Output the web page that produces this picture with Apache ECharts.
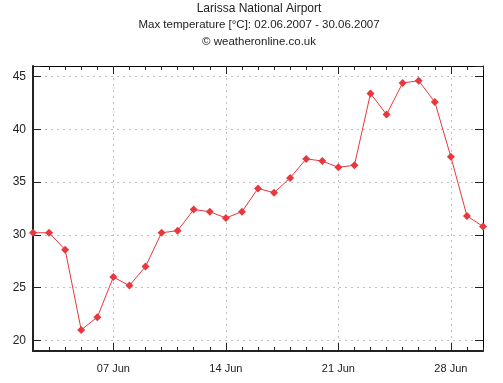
<!DOCTYPE html>
<html>
<head>
<meta charset="utf-8">
<script src="https://cdn.jsdelivr.net/npm/echarts@6/dist/echarts.min.js"></script>
<style>html,body{margin:0;padding:0;background:#fff;}#c{width:503px;height:383px;}</style>
</head>
<body>
<div id="c"></div>
<script>
const titleLines = ['Larissa National Airport', 'Max temperature [°C]: 02.06.2007 - 30.06.2007', '© weatheronline.co.uk'];
const days = ['02 Jun','03 Jun','04 Jun','05 Jun','06 Jun','07 Jun','08 Jun','09 Jun','10 Jun','11 Jun','12 Jun','13 Jun','14 Jun','15 Jun','16 Jun','17 Jun','18 Jun','19 Jun','20 Jun','21 Jun','22 Jun','23 Jun','24 Jun','25 Jun','26 Jun','27 Jun','28 Jun','29 Jun','30 Jun'];
const majorDays = ['07 Jun','14 Jun','21 Jun','28 Jun'];
const maxTemp = [30.2,30.2,28.6,21.0,22.2,26.0,25.2,27.0,30.2,30.4,32.4,32.2,31.6,32.2,34.4,34.0,35.4,37.2,37.0,36.4,36.6,43.4,41.4,44.4,44.6,42.6,37.4,31.8,30.8];
const yMin = 19, yMax = 46, yStep = 5;

const isMajor = (i) => majorDays.indexOf(days[i]) >= 0;
const font = 'Liberation Sans, Arial, sans-serif';
const titleSizes = [12, 11.5, 11.5];

function xAx(opts) {
  return Object.assign({
    type: 'category', data: days, boundaryGap: false, gridIndex: 0,
    axisLine: { show: false }, axisTick: { show: false }, axisLabel: { show: false }, splitLine: { show: false }
  }, opts);
}
function yAx(opts) {
  return Object.assign({
    type: 'value', min: yMin, max: yMax, minInterval: yStep, maxInterval: yStep, gridIndex: 0,
    axisLine: { show: false }, axisTick: { show: false }, axisLabel: { show: false }, splitLine: { show: false }
  }, opts);
}

const chart = echarts.init(document.getElementById('c'), null, { renderer: 'canvas' });
chart.setOption({
  animation: false,
  backgroundColor: '#fff',
  graphic: titleLines.map((t, i) => ({
    type: 'text', x: 259, y: 8.5 + i * 16.6,
    style: { text: t, align: 'center', verticalAlign: 'middle', font: titleSizes[i] + 'px ' + font, fill: '#222' }
  })),
  grid: { left: 33, right: 20, top: 66, bottom: 32, containLabel: false },
  xAxis: [
    xAx({ position: 'bottom',
      axisLine: { show: true, lineStyle: { color: '#222', width: 2 } },
      axisTick: { show: true, inside: true, length: 4, interval: 0, lineStyle: { color: '#222' } },
      axisLabel: { show: true, interval: (i) => isMajor(i), margin: 12, color: '#222', fontSize: 11, fontFamily: font },
      splitLine: { show: true, interval: (i) => isMajor(i), lineStyle: { color: '#c0c0c0', type: [2, 4], width: 1 } }
    }),
    xAx({ position: 'bottom',
      axisTick: { show: true, inside: true, length: 8, interval: (i) => isMajor(i), lineStyle: { color: '#222' } }
    }),
    xAx({ position: 'top',
      axisLine: { show: true, lineStyle: { color: '#000', width: 1 } },
      axisTick: { show: true, inside: true, length: 4, interval: 0, lineStyle: { color: '#222' } }
    }),
    xAx({ position: 'top',
      axisTick: { show: true, inside: true, length: 8, interval: (i) => isMajor(i), lineStyle: { color: '#222' } }
    })
  ],
  yAxis: [
    yAx({ position: 'left',
      axisLine: { show: true, lineStyle: { color: '#222', width: 2 } },
      axisTick: { show: true, inside: true, length: 8, lineStyle: { color: '#222' } },
      axisLabel: { show: true, margin: 7, color: '#222', fontSize: 12, fontFamily: font,
        formatter: (v) => (v % yStep === 0 ? String(v) : '') },
      splitLine: { show: true, lineStyle: { color: '#c0c0c0', type: [2, 4], width: 1 } }
    }),
    yAx({ position: 'right',
      axisLine: { show: true, lineStyle: { color: '#000', width: 1 } },
      axisTick: { show: true, inside: true, length: 8, lineStyle: { color: '#222' } }
    })
  ],
  series: [{
    type: 'line', xAxisIndex: 0, yAxisIndex: 0, data: maxTemp,
    symbol: 'diamond', symbolSize: 8, showAllSymbol: true,
    lineStyle: { color: '#e8383d', width: 1 },
    itemStyle: { color: '#e8383d' },
    z: 5
  }]
});
</script>
</body>
</html>
